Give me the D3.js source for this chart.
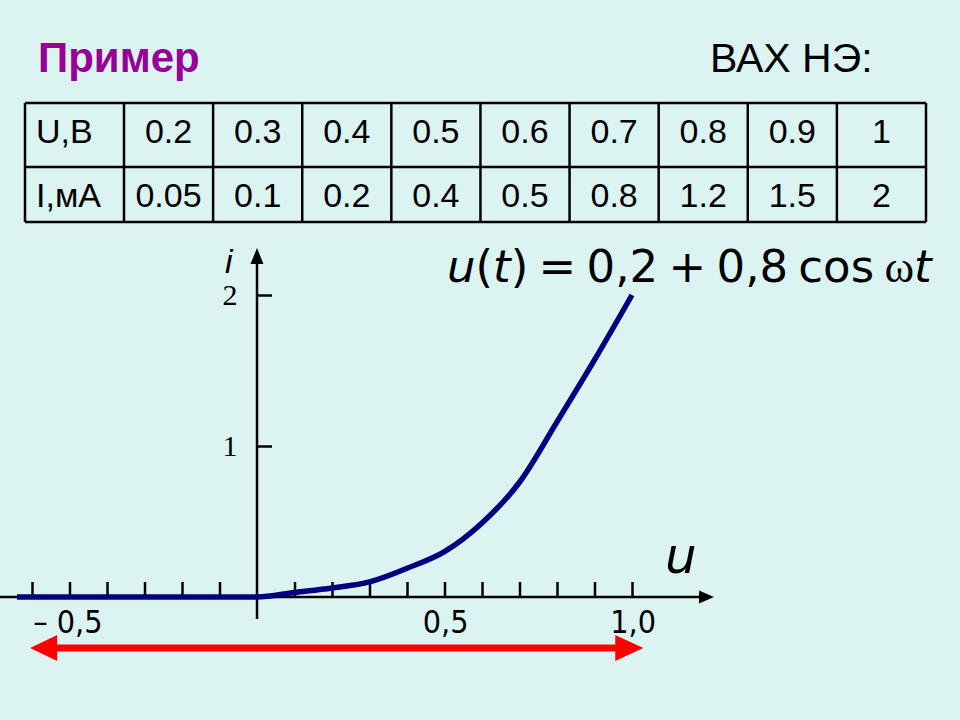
<!DOCTYPE html>
<html><head><meta charset="utf-8">
<script src="https://cdn.jsdelivr.net/npm/d3@7"></script>
<style>html,body{margin:0;padding:0;background:#DCF4F1;}svg{display:block;}</style>
</head><body>
<svg id="chart" width="960" height="720"></svg>
<script>
// ---- data ----
const tableU = [0.2, 0.3, 0.4, 0.5, 0.6, 0.7, 0.8, 0.9, 1];
const tableI = [0.05, 0.1, 0.2, 0.4, 0.5, 0.8, 1.2, 1.5, 2];
const rowLabels = ["U,В", "I,мА"];
const curveU = [-0.64, 0, 0.1, 0.2, 0.3, 0.4, 0.5, 0.6, 0.7, 0.8, 0.9, 1.0];
const curveI = [0, 0, 0.03, 0.06, 0.1, 0.19, 0.3, 0.49, 0.76, 1.16, 1.57, 2.0];
const xTicks = [-0.6,-0.5,-0.4,-0.3,-0.2,-0.1,0.1,0.2,0.3,0.4,0.5,0.6,0.7,0.8,0.9,1.0];
const xTickLabels = [{u:-0.5, text:"– 0,5"}, {u:0.5, text:"0,5"}, {u:1.0, text:"1,0"}];
const yTicks = [1, 2];
const yTickLabels = ["1", "2"];
const swing = [-0.605, 1.03];

const svg = d3.select("#chart");
svg.append("rect").attr("width",960).attr("height",720).attr("fill","#DCF4F1");

// ---- titles ----
svg.append("text").attr("x",38).attr("y",72).attr("font-family","'Liberation Sans', Arial, sans-serif")
  .attr("font-size",42).attr("font-weight","bold").attr("fill","#990099").text("Пример");
svg.append("text").attr("x",710).attr("y",72).attr("font-family","'Liberation Sans', Arial, sans-serif")
  .attr("font-size",41).attr("fill","#000").text("ВАХ НЭ:");

// ---- table ----
const tbl = svg.append("g");
const colX = d3.scaleBand().domain(tableU.map(String)).range([124, 926]);
const rowY = [103, 167, 222];
const tableLeft = 25, tableRight = 926;
const lineStyle = s => s.attr("stroke","#000").attr("stroke-width",2.5);
rowY.forEach(y => tbl.append("line").attr("x1",tableLeft).attr("x2",tableRight).attr("y1",y).attr("y2",y).call(lineStyle));
[tableLeft, ...tableU.map(u => colX(String(u))), tableRight].forEach(x =>
  tbl.append("line").attr("x1",x).attr("x2",x).attr("y1",rowY[0]).attr("y2",rowY[2]).call(lineStyle));
const tfont = "'Liberation Sans', Arial, sans-serif";
const baselines = [143, 207];
rowLabels.forEach((t,r) => tbl.append("text").attr("x",tableLeft+11).attr("y",baselines[r])
  .attr("font-family",tfont).attr("font-size",34).text(t));
[tableU, tableI].forEach((arr,r) => {
  tbl.selectAll(null).data(arr.map((v,k)=>({v, u:tableU[k]}))).enter().append("text")
    .attr("x", d => colX(String(d.u)) + colX.bandwidth()/2)
    .attr("y", baselines[r]).attr("text-anchor","middle")
    .attr("font-family",tfont).attr("font-size",34).text(d => String(d.v));
});

// ---- scales ----
const x = d3.scaleLinear().domain([0, 1]).range([257, 632]);
const y = d3.scaleLinear().domain([0, 2]).range([597, 295]);

// ---- axes ----
const ax = svg.append("g");
ax.append("line").attr("x1",0).attr("x2",703).attr("y1",y(0)).attr("y2",y(0)).attr("stroke","#000").attr("stroke-width",2.5);
ax.append("path").attr("d",`M714,${y(0)} L699,${y(0)-6.5} L699,${y(0)+6.5} Z`).attr("fill","#000");
const xAxisG = ax.append("g").attr("transform",`translate(0,${y(0)})`)
  .call(d3.axisTop(x).tickValues(xTicks).tickSize(15).tickFormat(""));
xAxisG.select(".domain").remove();
xAxisG.selectAll(".tick line").attr("stroke","#000").attr("stroke-width",2.5);
ax.append("line").attr("x1",x(0)).attr("x2",x(0)).attr("y1",619).attr("y2",260).attr("stroke","#000").attr("stroke-width",2.5);
ax.append("path").attr("d",`M${x(0)},248 L${x(0)-6.5},264 L${x(0)+6.5},264 Z`).attr("fill","#000");
const yAxisG = ax.append("g").attr("transform",`translate(${x(0)},0)`)
  .call(d3.axisRight(y).tickValues(yTicks).tickSize(15).tickFormat(""));
yAxisG.select(".domain").remove();
yAxisG.selectAll(".tick line").attr("stroke","#000").attr("stroke-width",2.5);

svg.selectAll(null).data(yTicks).enter().append("text")
  .attr("x", x(0)-27).attr("y", d => y(d)+10).attr("text-anchor","middle")
  .attr("font-family","'Liberation Serif', 'Times New Roman', serif").attr("font-size",30)
  .text((d,k) => yTickLabels[k]);
svg.append("text").attr("x",225).attr("y",273).attr("font-family","'Liberation Sans', Arial, sans-serif")
  .attr("font-style","italic").attr("font-size",34).text("i");
svg.append("text").attr("x",665).attr("y",573).attr("font-family","'DejaVu Sans', Verdana, sans-serif")
  .attr("font-style","italic").attr("font-size",50).text("u");

svg.selectAll(null).data(xTickLabels).enter().append("text")
  .attr("x", d => x(d.u) + (d.u < 0 ? 33 : 24)).attr("y", 633).attr("text-anchor","end")
  .attr("font-family","'DejaVu Sans Condensed', 'DejaVu Sans', sans-serif").attr("font-size",32)
  .text(d => d.text);

// ---- curve ----
const pts = curveU.map((u,k) => [u, curveI[k]]);
svg.append("path").datum(pts)
  .attr("d", d3.line().x(d => x(d[0])).y(d => y(d[1])).curve(d3.curveMonotoneX))
  .attr("fill","none").attr("stroke","#000080").attr("stroke-width",5.5).attr("stroke-linejoin","round");

// ---- swing arrow ----
const ay = 648;
const xl = x(swing[0]), xr = x(swing[1]);
svg.append("line").attr("x1",xl+20).attr("x2",xr-20).attr("y1",ay).attr("y2",ay).attr("stroke","#FF0000").attr("stroke-width",7);
svg.append("path").attr("d",`M${xl},${ay} L${xl+27},${ay-13} L${xl+27},${ay+13} Z`).attr("fill","#FF0000");
svg.append("path").attr("d",`M${xr},${ay} L${xr-28},${ay-13} L${xr-28},${ay+13} Z`).attr("fill","#FF0000");

// ---- formula ----
const f = svg.append("text").attr("x",447).attr("y",282)
  .attr("font-family","'DejaVu Sans', Verdana, sans-serif").attr("font-size",45).attr("fill","#000")
  .attr("word-spacing",-4);
f.append("tspan").attr("font-style","italic").text("u");
f.append("tspan").text("(");
f.append("tspan").attr("font-style","italic").text("t");
f.append("tspan").text(") = 0,2 + 0,8 cos ");
f.append("tspan").attr("font-family","'Liberation Serif', serif").text("ω");
f.append("tspan").attr("font-style","italic").text("t");
</script>
</body></html>
